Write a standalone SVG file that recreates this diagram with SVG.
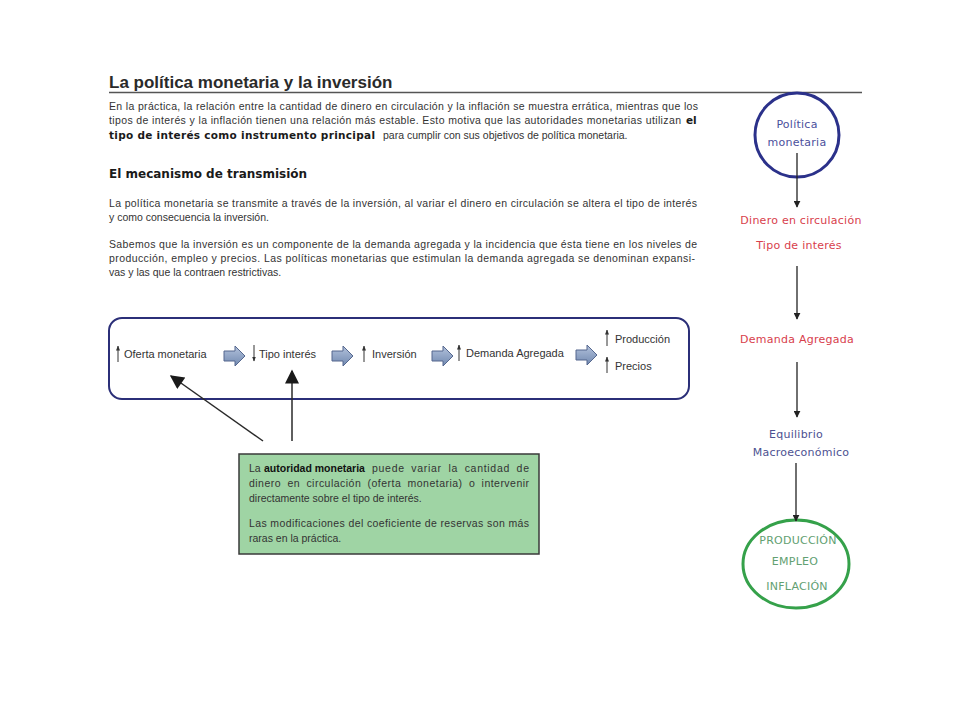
<svg xmlns="http://www.w3.org/2000/svg" width="960" height="720" viewBox="0 0 960 720">
<style>
.body{font-family:"Liberation Sans",Arial,sans-serif;font-size:10.5px;fill:#333}
.bold{font-family:"DejaVu Sans",Verdana,sans-serif;font-weight:bold;fill:#1a1a1a}
.abold{font-family:"Liberation Sans",Arial,sans-serif;font-weight:bold;font-size:10.5px;fill:#111}
.flow{font-family:"Liberation Sans",Arial,sans-serif;font-size:11px;fill:#333}
.side{font-family:"DejaVu Sans",Verdana,sans-serif;font-size:11px;letter-spacing:0.25px;text-anchor:middle}
.conn{stroke:#222;stroke-width:1.3;fill:none}
.ptr{stroke:#2a2a2a;stroke-width:1.5;fill:none}
.up{stroke:#333;stroke-width:1;fill:none}
</style>
<defs>
<marker id="ah" viewBox="0 0 10 10" refX="9" refY="5" markerWidth="7" markerHeight="7" markerUnits="userSpaceOnUse" orient="auto">
<path d="M0,0 L10,5 L0,10 z" fill="#222"/>
</marker>
<marker id="ahBig" viewBox="0 0 10 10" refX="9" refY="5" markerWidth="16" markerHeight="14" markerUnits="userSpaceOnUse" orient="auto">
<path d="M0,0 L10,5 L0,10 z" fill="#1a1a1a"/>
</marker>
<marker id="ahSmall" viewBox="0 0 10 10" refX="9" refY="5" markerWidth="5" markerHeight="5" markerUnits="userSpaceOnUse" orient="auto">
<path d="M0,1 L10,5 L0,9 z" fill="#333"/>
</marker>
<linearGradient id="bg" x1="0" y1="0" x2="0" y2="1">
<stop offset="0" stop-color="#b3c2dc"/>
<stop offset="1" stop-color="#7189b0"/>
</linearGradient>
<path id="blk" d="M0,-5 L11,-5 L11,-10 L21,0 L11,10 L11,5 L0,5 z" fill="url(#bg)" stroke="#55678e" stroke-width="1"/>
</defs>
<rect width="960" height="720" fill="#ffffff"/>

<g id="header">
<text x="109" y="88" style="font-family:'Liberation Sans',Arial,sans-serif;font-size:17px;font-weight:bold;fill:#2a2a2a">La política monetaria y la inversión</text>
<line x1="109" y1="92.5" x2="862" y2="92.5" stroke="#555" stroke-width="1.5"/>
</g>

<g id="intro">
<text class="body" x="109" y="110" textLength="589" lengthAdjust="spacing">En la práctica, la relación entre la cantidad de dinero en circulación y la inflación se muestra errática, mientras que los</text>
<text class="body" x="109" y="124" textLength="572" lengthAdjust="spacing">tipos de interés y la inflación tienen una relación más estable. Esto motiva que las autoridades monetarias utilizan</text>
<text class="bold" x="686" y="124" font-size="10.5">el</text>
<text class="bold" x="109" y="139" font-size="10.5" textLength="266" lengthAdjust="spacing">tipo de interés como instrumento principal</text>
<text class="body" x="383" y="139">para cumplir con sus objetivos de política monetaria.</text>
</g>

<g id="mecanismo">
<text class="bold" x="109" y="178" font-size="12">El mecanismo de transmisión</text>
<text class="body" x="109" y="207" textLength="588" lengthAdjust="spacing">La política monetaria se transmite a través de la inversión,  al variar el dinero en circulación se altera el tipo de interés</text>
<text class="body" x="109" y="221">y como consecuencia la inversión.</text>
<text class="body" x="109" y="248" textLength="588" lengthAdjust="spacing">Sabemos que la inversión es un componente de la demanda agregada y la incidencia que ésta tiene en los niveles de</text>
<text class="body" x="109" y="262" textLength="586" lengthAdjust="spacing">producción, empleo y precios. Las políticas monetarias que estimulan la demanda agregada se denominan expansi-</text>
<text class="body" x="109" y="276">vas y las que la contraen restrictivas.</text>
</g>

<g id="flow-box">
<rect x="109" y="318" width="580" height="81" rx="13" fill="#fff" stroke="#2b2f78" stroke-width="2"/>
</g>
<g id="n-oferta">
<path class="up" d="M118,362 L118,346" marker-end="url(#ahSmall)"/>
<text class="flow" x="124" y="358">Oferta monetaria</text>
</g>
<g id="n-tipo">
<path class="up" d="M254,345 L254,361" marker-end="url(#ahSmall)"/>
<text class="flow" x="259" y="358">Tipo interés</text>
</g>
<g id="n-inversion">
<path class="up" d="M364,362 L364,346" marker-end="url(#ahSmall)"/>
<text class="flow" x="372" y="358">Inversión</text>
</g>
<g id="n-demanda">
<path class="up" d="M459,361 L459,345" marker-end="url(#ahSmall)"/>
<text class="flow" x="466" y="357">Demanda Agregada</text>
</g>
<g id="n-produccion">
<path class="up" d="M607,346 L607,330" marker-end="url(#ahSmall)"/>
<text class="flow" x="615" y="343">Producción</text>
</g>
<g id="n-precios">
<path class="up" d="M607,373 L607,357" marker-end="url(#ahSmall)"/>
<text class="flow" x="615" y="370">Precios</text>
</g>

<g id="n-nota">
<rect x="239" y="454" width="300" height="100" fill="#9fd4a4" stroke="#3a3a3a" stroke-width="1.5"/>
<text class="body" x="249" y="472">La</text>
<text class="abold" x="264" y="472">autoridad monetaria</text>
<text class="body" x="372" y="472" word-spacing="3" textLength="157" lengthAdjust="spacing">puede variar la cantidad de</text>
<text class="body" x="249" y="487" word-spacing="3" textLength="280" lengthAdjust="spacing">dinero en circulación (oferta monetaria) o intervenir</text>
<text class="body" x="249" y="502">directamente sobre el tipo de interés.</text>
<text class="body" x="249" y="527" textLength="280" lengthAdjust="spacing">Las modificaciones  del coeficiente de reservas son más</text>
<text class="body" x="249" y="542">raras en la práctica.</text>
</g>

<g id="n-politica">
<circle cx="797" cy="135" r="42" fill="#fff" stroke="#2b318a" stroke-width="3"/>
<text class="side" x="797" y="128" fill="#4b4f9c">Política</text>
<text class="side" x="797" y="146" fill="#4b4f9c">monetaria</text>
</g>
<g id="n-dinero">
<text class="side" x="801" y="224" fill="#d8404c">Dinero en circulación</text>
<text class="side" x="799" y="249" fill="#d8404c">Tipo de interés</text>
</g>
<g id="n-dem">
<text class="side" x="797" y="343" fill="#d8404c">Demanda Agregada</text>
</g>
<g id="n-equilibrio">
<text class="side" x="796" y="438" fill="#4d5191">Equilibrio</text>
<text class="side" x="801" y="456" fill="#4d5191">Macroeconómico</text>
</g>
<g id="n-resultado">
<ellipse cx="796" cy="564" rx="53" ry="44" fill="#fff" stroke="#35a14a" stroke-width="3"/>
<text class="side" x="798" y="544" fill="#62a072" font-size="10.5" letter-spacing="0.8">PRODUCCIÓN</text>
<text class="side" x="795" y="565" fill="#62a072" font-size="10.5" letter-spacing="0.8">EMPLEO</text>
<text class="side" x="797" y="590" fill="#62a072" font-size="10.5" letter-spacing="0.8">INFLACIÓN</text>
</g>

<g id="connectors">
<use href="#blk" x="224" y="356"/>
<use href="#blk" x="332" y="356"/>
<use href="#blk" x="432" y="356"/>
<use href="#blk" x="576" y="355"/>
<path class="ptr" d="M263,441 L171,376" marker-end="url(#ahBig)"/>
<path class="ptr" d="M292,441 L292,371" marker-end="url(#ahBig)"/>
<path class="conn" d="M797,153 L797,207" marker-end="url(#ah)"/>
<path class="conn" d="M797,266 L797,319" marker-end="url(#ah)"/>
<path class="conn" d="M797,362 L797,417" marker-end="url(#ah)"/>
<path class="conn" d="M796,463 L796,521" marker-end="url(#ah)"/>
</g>
</svg>
